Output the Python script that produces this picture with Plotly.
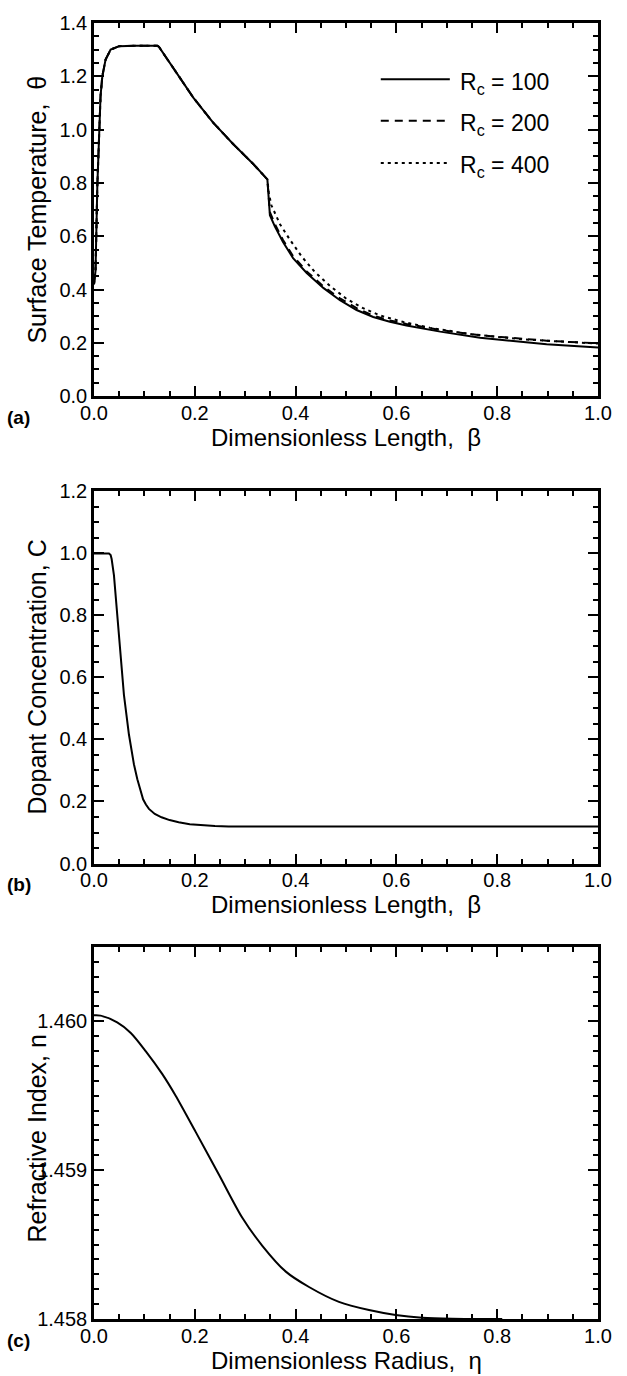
import plotly.graph_objects as go

# ---------------- data ----------------
# Panel (a): surface temperature vs dimensionless length
beta_100 = [0.0, 0.003, 0.0066, 0.0099, 0.013, 0.0165, 0.023, 0.033, 0.05, 0.083, 0.126, 0.129,
            0.137, 0.157, 0.197, 0.236, 0.276, 0.316, 0.344, 0.349, 0.359, 0.375, 0.395, 0.422,
            0.455, 0.488, 0.521, 0.554, 0.587, 0.62, 0.687, 0.766, 0.832, 0.898, 1.0]
theta_100 = [0.42, 0.47, 0.79, 1.0, 1.126, 1.2, 1.263, 1.30, 1.313, 1.315, 1.315, 1.31,
             1.2875, 1.232, 1.12, 1.027, 0.946, 0.871, 0.813, 0.679, 0.636, 0.578, 0.518, 0.462,
             0.406, 0.36, 0.323, 0.297, 0.279, 0.265, 0.242, 0.219, 0.206, 0.195, 0.1825]

beta_200 = [0.0, 0.003, 0.0066, 0.0099, 0.013, 0.0165, 0.023, 0.033, 0.05, 0.083, 0.126, 0.129,
            0.137, 0.157, 0.197, 0.236, 0.276, 0.316, 0.344, 0.349, 0.359, 0.375, 0.395, 0.422,
            0.455, 0.488, 0.521, 0.554, 0.587, 0.62, 0.687, 0.766, 0.832, 0.898, 1.0]
theta_200 = [0.42, 0.47, 0.79, 1.0, 1.126, 1.2, 1.263, 1.30, 1.313, 1.315, 1.315, 1.31,
             1.2875, 1.232, 1.12, 1.027, 0.946, 0.871, 0.813, 0.69, 0.645, 0.586, 0.525, 0.468,
             0.412, 0.367, 0.33, 0.302, 0.284, 0.271, 0.248, 0.228, 0.217, 0.208, 0.198]

beta_400 = [0.0, 0.003, 0.0066, 0.0099, 0.013, 0.0165, 0.023, 0.033, 0.05, 0.083, 0.126, 0.129,
            0.137, 0.157, 0.197, 0.236, 0.276, 0.316, 0.344, 0.347, 0.352, 0.369, 0.389, 0.412,
            0.438, 0.468, 0.501, 0.534, 0.567, 0.614, 0.667, 0.75, 0.85, 1.0]
theta_400 = [0.42, 0.47, 0.79, 1.0, 1.126, 1.2, 1.263, 1.30, 1.313, 1.315, 1.315, 1.31,
             1.2875, 1.232, 1.12, 1.027, 0.946, 0.871, 0.813, 0.76, 0.716, 0.645, 0.586, 0.524,
             0.466, 0.414, 0.365, 0.33, 0.303, 0.278, 0.256, 0.232, 0.213, 0.197]

# Panel (b): dopant concentration vs dimensionless length
beta_c = [0.0, 0.0297, 0.033, 0.035, 0.0396, 0.046, 0.0528, 0.0594, 0.0693, 0.0792, 0.086,
          0.0924, 0.0974, 0.103, 0.109, 0.1206, 0.134, 0.15, 0.168, 0.19, 0.2145, 0.24, 0.267,
          0.35, 1.0]
conc = [1.0, 1.0, 0.995, 0.982, 0.929, 0.80, 0.651, 0.544, 0.416, 0.32, 0.272,
        0.235, 0.207, 0.19, 0.176, 0.16, 0.149, 0.14, 0.133, 0.127, 0.123, 0.121, 0.1195,
        0.119, 0.119]

# Panel (c): refractive index vs dimensionless radius
eta = [0.0, 0.013, 0.046, 0.073, 0.1025, 0.1356, 0.162, 0.2017, 0.248, 0.2943, 0.334, 0.38,
       0.4266, 0.486, 0.5456, 0.5985, 0.651, 0.711, 0.81]
n_idx = [1.46004, 1.460038, 1.459993, 1.459922, 1.4598, 1.459645, 1.4595, 1.459257, 1.458969,
         1.45868, 1.458492, 1.45832, 1.458215, 1.458115, 1.45806, 1.458027, 1.458009, 1.458002,
         1.458]

series_labels = ["R<sub>c</sub> = 100", "R<sub>c</sub> = 200", "R<sub>c</sub> = 400"]
series_dash = ["solid", "8px,6px", "3px,4px"]

# ---------------- figure ----------------
FONT = "Liberation Sans, Arial, Helvetica, sans-serif"
fig = go.Figure()

for bx, ty, lab, dsh in zip([beta_100, beta_200, beta_400],
                            [theta_100, theta_200, theta_400], series_labels, series_dash):
    fig.add_trace(go.Scatter(x=bx, y=ty, mode="lines", name=lab, xaxis="x", yaxis="y",
                             line=dict(color="black", width=2, dash=dsh), showlegend=False))

fig.add_trace(go.Scatter(x=beta_c, y=conc, mode="lines", xaxis="x2", yaxis="y2",
                         line=dict(color="black", width=2), showlegend=False))
fig.add_trace(go.Scatter(x=eta, y=n_idx, mode="lines", xaxis="x3", yaxis="y3",
                         line=dict(color="black", width=2, shape="spline", smoothing=0.8),
                         showlegend=False))

W, H = 627, 1376
TOP, BOT = 13, 1319
ph = BOT - TOP


def dom(y0, y1):
    return [1 - (y1 - TOP) / ph, 1 - (y0 - TOP) / ph]


TICKF = dict(family=FONT, size=20, color="black")


def xax(anchor):
    return dict(range=[0, 1], dtick=0.2, tick0=0, tickformat=".1f", ticks="inside", ticklen=10,
                tickwidth=1.5, tickcolor="black", ticklabelstandoff=-3,
                minor=dict(dtick=0.05, tick0=0, ticks="inside", ticklen=5, tickwidth=1.5,
                           tickcolor="black"),
                showline=True, linewidth=2.5, linecolor="black", mirror="ticks",
                showgrid=False, zeroline=False, anchor=anchor, tickfont=TICKF)


def yax(anchor, rng, dt, mdt, fmt, d):
    return dict(range=rng, dtick=dt, tick0=rng[0], tickformat=fmt, ticks="inside", ticklen=10,
                tickwidth=1.5, tickcolor="black",
                minor=dict(dtick=mdt, tick0=rng[0], ticks="inside", ticklen=5, tickwidth=1.5,
                           tickcolor="black"),
                showline=True, linewidth=2.5, linecolor="black", mirror="ticks",
                showgrid=False, zeroline=False, anchor=anchor, domain=d, tickfont=TICKF)


fig.update_layout(
    width=W, height=H,
    margin=dict(l=94, r=29, t=TOP, b=H - BOT),
    paper_bgcolor="white", plot_bgcolor="white",
    font=dict(family=FONT, color="black"),
    xaxis=xax("y"), yaxis=yax("x", [0, 1.4], 0.2, 0.05, ".1f", dom(13, 389)),
    xaxis2=xax("y2"), yaxis2=yax("x2", [0, 1.2], 0.2, 0.05, ".1f", dom(485, 860)),
    xaxis3=xax("y3"), yaxis3=yax("x3", [1.458, 1.4605], 0.001, 0.0001, ".3f", dom(944, 1319)),
)

ann = []
xt = ["Dimensionless Length,  β", "Dimensionless Length,  β", "Dimensionless Radius,  η"]
yt = ["Surface Temperature,  θ", "Dopant Concentration, C", "Refractive Index, n"]
yc = [0.5, 0.5, 0.485]
pl = ["(a)", "(b)", "(c)"]
for i, s in enumerate(["", "2", "3"]):
    ann.append(dict(text=xt[i], xref=f"x{s} domain", yref=f"y{s} domain", x=0.5, y=0,
                    yshift=-41, xanchor="center", yanchor="middle", showarrow=False,
                    font=dict(family=FONT, size=24, color="black")))
    ann.append(dict(text=yt[i], xref=f"x{s} domain", yref=f"y{s} domain", x=0, y=yc[i],
                    xshift=-57, xanchor="center", yanchor="middle", textangle=-90,
                    showarrow=False, font=dict(family=FONT, size=25, color="black")))
    ann.append(dict(text=f"<b>{pl[i]}</b>", xref=f"x{s} domain", yref=f"y{s} domain", x=0,
                    y=0, xshift=-89, yshift=-21, xanchor="left", yanchor="middle",
                    showarrow=False, font=dict(family=FONT, size=19, color="black")))

# legend (manual, inside panel a)
shapes = []
leg_y = [0.849, 0.738, 0.625]
for lab, dsh, ly in zip(series_labels, series_dash, leg_y):
    shapes.append(dict(type="line", xref="x domain", yref="y domain", x0=0.569, x1=0.706,
                       y0=ly, y1=ly, line=dict(color="black", width=2, dash=dsh)))
    ann.append(dict(text=lab, xref="x domain", yref="y domain", x=0.722, y=ly, yshift=-4,
                    xanchor="left", yanchor="middle", showarrow=False,
                    font=dict(family=FONT, size=23, color="black")))

fig.update_layout(annotations=ann, shapes=shapes)
fig.write_html("out.html", config={"displayModeBar": False},
               post_script="document.body.style.margin='0';document.body.style.overflow='hidden';")
